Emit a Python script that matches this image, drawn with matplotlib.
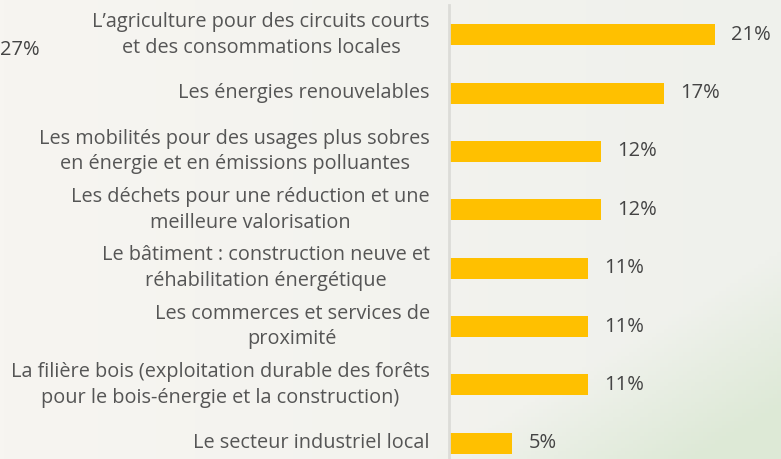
import numpy as np
import matplotlib.pyplot as plt
from matplotlib import transforms

# Data
categories = [
    "L\u2019agriculture pour des circuits courts\net des consommations locales",
    "Les énergies renouvelables",
    "Les mobilités pour des usages plus sobres\nen énergie et en émissions polluantes",
    "Les déchets pour une réduction et une\nmeilleure valorisation",
    "Le bâtiment : construction neuve et\nréhabilitation énergétique",
    "Les commerces et services de\nproximité",
    "La filière bois (exploitation durable des forêts\npour le bois-énergie et la construction)",
    "Le secteur industriel local",
]
values = [21, 17, 12, 12, 11, 11, 11, 5]

plt.rcParams['font.family'] = ['Open Sans', 'DejaVu Sans']

bg = "#f5f4f0"
fig = plt.figure(figsize=(7.81, 4.59), dpi=100, facecolor=bg)

# soft background: warm white on the left, pale green towards bottom right
bax = fig.add_axes([0, 0, 1, 1], zorder=-1)
xx, yy = np.meshgrid(np.linspace(0, 1, 200), np.linspace(0, 1, 120))
left = np.array([247, 245, 241]) / 255
right = np.array([239, 241, 236]) / 255
corner = np.array([221, 233, 214]) / 255
img = left + (right - left) * xx[..., None]
w = np.clip((xx + yy - 1.55) / 0.35, 0, 1)[..., None]
img = img * (1 - w) + corner * w
bax.imshow(img, aspect="auto", extent=[0, 1, 0, 1])
bax.axis("off")

ax = fig.add_axes([449 / 781, 0, 1 - 449 / 781, 1 - 5 / 459])
ax.set_facecolor("none")

y = list(range(len(values)))
ax.barh(y, values, height=0.36, color="#ffc000")
ax.set_xlim(0, 26.2)
ax.set_ylim(7.27, -0.51)

for s in ["top", "right", "bottom"]:
    ax.spines[s].set_visible(False)
ax.spines["left"].set_color("#dcdcd8")
ax.spines["left"].set_linewidth(2)
ax.set_xticks([])
ax.set_yticks([])

# category labels, right aligned with centred lines
lab_tr = ax.get_yaxis_transform() + transforms.ScaledTranslation(-19 / 100, 0, fig.dpi_scale_trans)
for yi, cat in zip(y, categories):
    ax.text(0, yi, cat, transform=lab_tr, ha="right", va="center",
            multialignment="center", fontsize=14.3, color="#555555", linespacing=1.38)

# value labels
off = transforms.ScaledTranslation(16 / 100, 0, fig.dpi_scale_trans)
for yi, v in zip(y, values):
    ax.text(v, yi, f"{v}%", transform=ax.transData + off, ha="left", va="center",
            fontsize=14.5, color="#444444")

# cropped label from neighbouring chart
fig.text(0, 1 - 50 / 459, "27%", ha="left", va="center", fontsize=14.5, color="#444444")

fig.savefig("out.png", dpi=100, facecolor=bg)
